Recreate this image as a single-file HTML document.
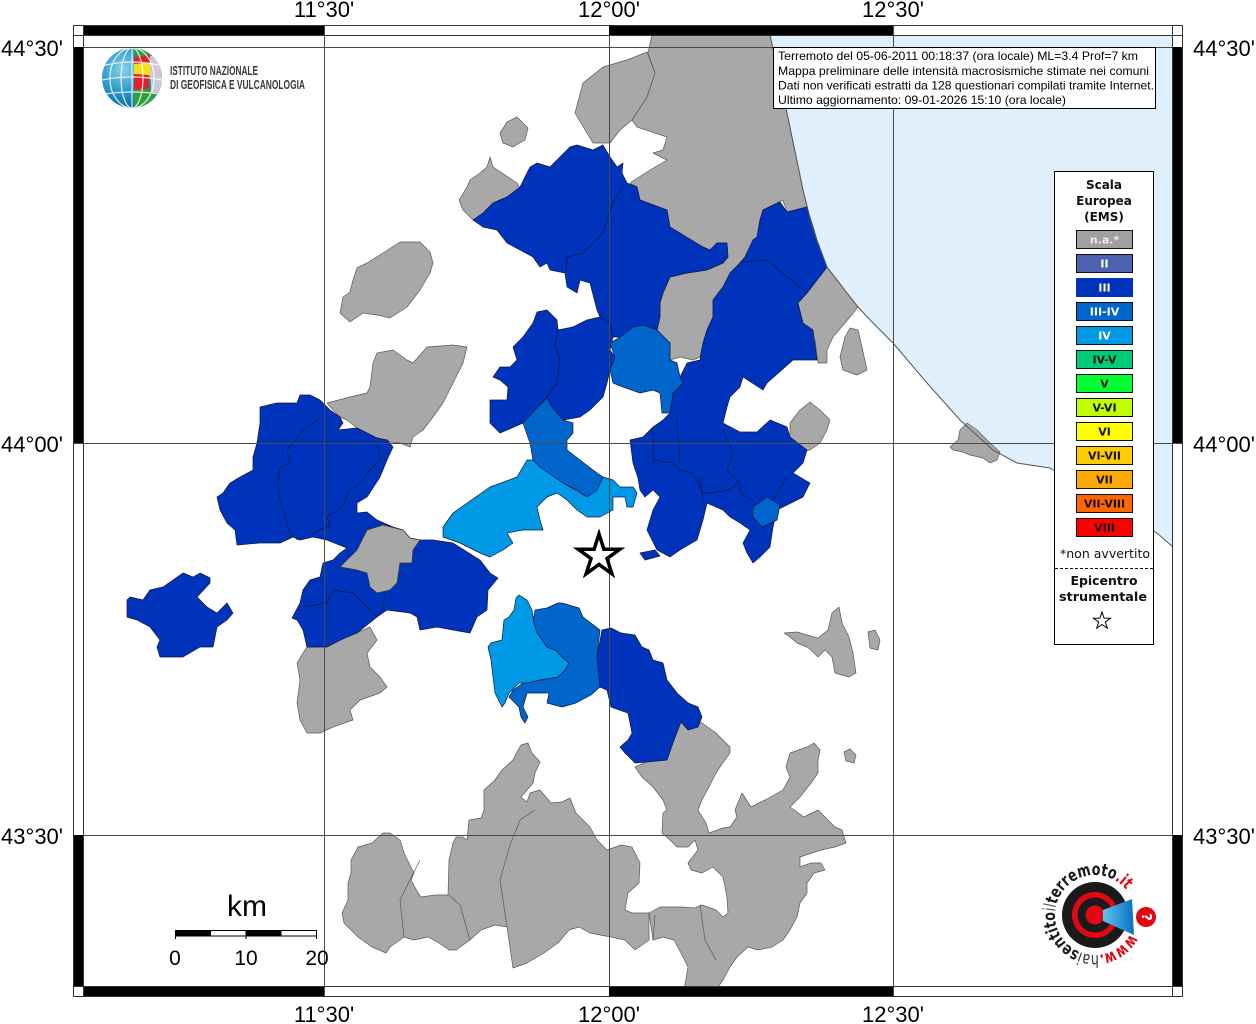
<!DOCTYPE html>
<html><head><meta charset="utf-8"><style>
html,body{margin:0;padding:0;background:#fff;}
svg{display:block;}
</style></head><body>
<svg width="1256" height="1024" viewBox="0 0 1256 1024" xmlns="http://www.w3.org/2000/svg">
<defs>
<clipPath id="mapclip"><rect x="83" y="35" width="1090" height="952"/></clipPath>
<radialGradient id="gb" cx="0.35" cy="0.35" r="0.75"><stop offset="0" stop-color="#86d3ec"/><stop offset="0.6" stop-color="#1d8fbf"/><stop offset="1" stop-color="#0b5d88"/></radialGradient>
<clipPath id="gc"><circle cx="132" cy="78" r="30"/></clipPath>
<linearGradient id="cone" x1="0" y1="0" x2="1" y2="0"><stop offset="0" stop-color="#5fc3f0"/><stop offset="1" stop-color="#0a6fc2"/></linearGradient>
<path id="arc" d="M1130.3,933.8 A40,40 0 1,1 1128.9,893.8"/>
</defs>
<rect width="1256" height="1024" fill="#fff"/>

<g clip-path="url(#mapclip)">
<!-- sea -->
<path d="M770,35 L1173,35 L1173,547 L1157,533 L1100,500 L1050,468 L1017,463 L993,450 L960,420 L927,383 L893,343 L873,323 L858,307 L847,293 L827,267 L813,230 L803,190 L787,113 Z" fill="#dff0fc"/>

<!-- gray regions -->
<g fill="#a8a8a8" stroke="#5a5a5a" stroke-width="0.7" stroke-linejoin="round">
<path d="M652,35 L770,35 L787,113 L803,190 L807,207 L787,212 L783,200 L763,210 L760,220 L757,237 L753,240 L745,257 L740,263 L730,273 L723,287 L713,300 L713,317 L707,330 L703,343 L700,357 L693,360 L680,357 L670,360 L670,343 L657,330 L660,317 L660,303 L663,293 L670,277 L687,273 L707,270 L723,263 L728,257 L727,243 L717,243 L710,250 L703,247 L670,227 L667,210 L640,200 L637,187 L630,183 L650,170 L667,160 L653,153 L663,150 L667,137 L637,127 L632,120 L647,97 L655,73 L648,53 Z"/>
<path d="M627,60 L647,52 L655,73 L647,97 L632,120 L620,130 L610,143 L593,143 L575,113 L583,83 L603,67 Z"/>
<path d="M490,157 L493,167 L517,183 L520,188 L507,197 L493,203 L483,213 L473,220 L463,210 L459,200 L467,187 L470,180 L480,173 L487,167 Z"/>
<path d="M517,117 L528,128 L525,140 L513,147 L503,143 L500,133 L507,122 Z"/>
<path d="M340,313 L343,297 L350,292 L353,280 L357,268 L367,263 L383,253 L400,242 L420,242 L430,252 L433,263 L430,273 L420,290 L407,307 L390,318 L377,315 L363,313 L350,322 Z"/>
<path d="M327,403 L350,397 L367,393 L370,387 L373,363 L377,353 L393,350 L407,360 L413,363 L427,347 L453,345 L467,347 L463,363 L453,383 L443,403 L433,417 L423,430 L413,437 L410,447 L400,443 L390,442 L387,440 L377,438 L367,433 L357,428 L347,420 L340,417 L333,410 Z"/>
<path d="M307,647 L327,647 L347,637 L370,627 L377,640 L367,653 L370,667 L380,677 L387,687 L380,693 L360,700 L350,710 L353,720 L333,727 L320,733 L307,733 L300,720 L297,703 L300,680 L297,663 L303,653 Z"/>
<path d="M827,267 L847,293 L858,307 L850,317 L833,337 L827,350 L827,363 L818,363 L815,340 L807,327 L800,320 L798,300 L807,293 Z"/>
<path d="M850,328 L858,330 L862,347 L867,370 L857,375 L843,370 L840,357 L845,337 Z"/>
<path d="M790,423 L800,410 L810,402 L820,410 L830,420 L827,430 L820,443 L810,450 L793,453 L790,437 Z"/>
<path d="M967,423 L977,430 L990,443 L1000,452 L997,460 L990,463 L983,458 L970,455 L963,452 L953,450 L950,447 L958,440 L960,430 Z"/>
<path d="M784,633 L797,632 L807,635 L818,638 L828,630 L832,613 L839,607 L842,623 L849,637 L853,653 L856,673 L849,677 L835,673 L832,657 L825,650 L818,657 L811,650 L807,647 L797,643 L790,637 Z"/>
<path d="M844,752 L850,749 L856,755 L854,763 L846,761 Z"/>
<path d="M868,632 L875,630 L880,640 L878,650 L870,648 Z"/>
<path d="M521,745 L528,743 L532,753 L540,762 L535,773 L533,783 L527,790 L521,797 L527,802 L530,793 L540,790 L551,803 L562,802 L570,798 L576,813 L583,820 L590,827 L597,840 L607,850 L621,845 L632,847 L640,863 L639,883 L628,893 L625,910 L632,913 L649,913 L649,940 L635,950 L625,940 L611,937 L600,935 L590,933 L579,927 L569,930 L558,943 L544,953 L527,963 L513,968 L507,927 L495,925 L481,930 L470,940 L456,950 L449,950 L439,943 L428,937 L414,940 L404,937 L390,947 L386,953 L372,947 L358,937 L344,923 L342,913 L348,900 L348,883 L351,873 L351,860 L358,847 L372,843 L383,833 L390,833 L400,840 L404,853 L411,867 L414,873 L411,880 L418,893 L421,897 L435,895 L448,895 L449,860 L453,843 L456,837 L463,837 L467,840 L469,820 L481,818 L484,810 L484,790 L495,780 L502,770 L513,760 L518,750 Z"/>
<path d="M681,720 L688,717 L702,723 L716,733 L723,740 L730,747 L730,753 L720,767 L716,773 L709,787 L702,800 L698,810 L706,823 L709,833 L723,828 L730,827 L737,817 L735,810 L742,793 L751,807 L765,800 L783,790 L790,777 L786,767 L790,753 L807,747 L814,743 L820,750 L818,760 L818,773 L811,783 L800,797 L790,807 L804,817 L818,810 L828,820 L835,827 L842,830 L846,843 L835,847 L821,850 L800,857 L800,867 L811,863 L821,863 L825,870 L814,873 L807,883 L807,893 L800,903 L797,917 L790,930 L783,940 L772,947 L758,950 L748,947 L737,957 L730,967 L723,980 L716,990 L684,990 L688,967 L681,953 L674,940 L663,937 L653,940 L649,913 L660,907 L681,907 L695,908 L702,905 L716,910 L723,917 L728,913 L727,897 L723,877 L713,867 L702,873 L691,870 L688,863 L698,850 L695,840 L688,847 L677,847 L670,840 L662,833 L663,813 L667,810 L663,800 L653,787 L642,777 L635,767 L646,762 L667,760 L674,740 Z"/>
</g>
<g fill="none" stroke="#5a5a5a" stroke-width="0.7">
<path d="M404,937 L400,900 L420,860"/>
<path d="M449,895 L460,905 L470,940"/>
<path d="M507,927 L500,880 L510,845 L520,820 L535,810"/>
<path d="M653,940 L655,915"/>
<path d="M700,905 L705,940 L716,960"/>
</g>

<!-- blue III regions -->
<g fill="#0033bb" stroke="#101840" stroke-width="0.7" stroke-linejoin="round">
<path d="M473,220 L483,213 L493,203 L507,197 L520,187 L530,167 L537,163 L550,167 L570,147 L577,145 L593,150 L603,145 L610,157 L617,167 L623,163 L622,173 L627,183 L637,187 L640,200 L667,210 L670,227 L703,247 L710,250 L717,243 L727,243 L728,257 L723,263 L707,270 L687,273 L670,277 L663,293 L660,303 L660,317 L657,330 L643,325 L633,327 L620,337 L613,337 L610,323 L600,317 L597,310 L590,283 L580,280 L577,293 L567,287 L565,273 L550,270 L547,263 L540,267 L533,257 L507,243 L497,230 L483,227 Z"/>
<path d="M537,312 L547,310 L557,320 L558,330 L555,343 L560,360 L557,383 L547,397 L535,410 L523,423 L507,430 L500,433 L490,423 L490,400 L507,400 L508,387 L500,380 L493,377 L500,367 L510,367 L517,360 L513,347 L523,337 L533,323 Z"/>
<path d="M587,320 L600,317 L610,323 L613,337 L610,350 L615,357 L610,370 L607,383 L603,397 L590,410 L580,417 L563,420 L547,407 L547,397 L557,383 L560,360 L555,343 L558,330 L573,327 Z"/>
<path d="M763,210 L780,202 L787,212 L807,207 L817,240 L827,267 L807,293 L798,303 L803,323 L813,330 L817,360 L793,360 L767,383 L763,390 L743,377 L740,387 L730,397 L727,407 L723,423 L740,432 L757,432 L770,420 L787,427 L790,437 L807,450 L803,463 L793,473 L810,483 L803,497 L777,510 L773,527 L770,547 L760,557 L753,563 L747,553 L743,543 L750,530 L740,523 L730,517 L723,510 L707,503 L703,520 L697,540 L680,550 L670,557 L657,550 L647,530 L653,510 L660,497 L653,490 L645,497 L640,490 L638,478 L633,463 L630,440 L643,437 L653,427 L663,420 L670,413 L673,393 L683,383 L680,377 L687,363 L700,360 L703,343 L707,330 L713,317 L713,300 L723,287 L730,273 L740,263 L745,257 L753,240 L757,237 L760,220 Z"/>
<path d="M640,553 L655,550 L660,556 L645,560 Z"/>
<path d="M260,407 L277,403 L297,403 L300,395 L310,395 L320,400 L330,410 L340,417 L343,423 L338,430 L357,428 L367,433 L377,438 L387,440 L393,447 L387,460 L380,477 L367,497 L357,503 L357,513 L367,512 L377,520 L393,527 L403,530 L410,538 L420,540 L433,540 L453,543 L480,560 L490,573 L498,578 L488,590 L487,610 L477,617 L470,633 L453,630 L437,627 L420,630 L417,617 L410,613 L387,610 L377,617 L357,633 L340,640 L327,647 L307,647 L303,630 L297,620 L292,618 L300,603 L303,590 L310,580 L320,577 L323,563 L333,560 L340,553 L347,548 L327,540 L313,537 L300,540 L293,537 L280,543 L260,543 L237,545 L235,530 L227,523 L220,510 L217,497 L223,493 L230,483 L240,477 L253,470 L253,457 L257,443 L260,423 Z"/>
<path d="M127,600 L130,597 L143,600 L150,590 L163,587 L173,580 L183,573 L193,577 L200,573 L210,578 L210,583 L197,597 L207,607 L217,613 L227,603 L233,613 L227,620 L217,627 L213,647 L200,647 L183,657 L160,657 L157,647 L160,640 L150,627 L137,620 L127,617 Z"/>
<path d="M602,630 L611,628 L621,633 L635,635 L642,647 L649,650 L653,660 L663,663 L667,680 L677,693 L688,703 L698,707 L702,717 L698,727 L688,730 L681,722 L674,740 L667,760 L646,762 L635,763 L625,753 L620,747 L628,740 L632,733 L628,713 L611,707 L607,690 L600,687 L597,657 Z"/>
</g>

<!-- gray inside west cluster -->
<path d="M367,530 L383,525 L403,530 L410,538 L420,540 L413,550 L412,563 L400,563 L397,583 L390,590 L377,593 L370,587 L367,573 L357,570 L340,567 L350,557 L357,550 Z" fill="#a8a8a8" stroke="#333" stroke-width="0.7"/>

<!-- III-IV -->
<g fill="#0066cc" stroke="#101840" stroke-width="0.7" stroke-linejoin="round">
<path d="M610,343 L620,337 L633,327 L643,325 L657,330 L670,343 L670,360 L677,363 L680,377 L683,383 L673,393 L670,413 L662,413 L660,393 L653,390 L640,393 L623,387 L613,383 L610,370 L615,357 Z"/>
<path d="M523,423 L535,410 L547,398 L552,407 L563,420 L573,423 L573,433 L567,440 L567,450 L580,460 L593,470 L603,477 L597,490 L587,497 L577,490 L563,483 L550,477 L540,467 L533,460 L530,443 Z"/>
<path d="M753,507 L767,497 L780,505 L777,520 L762,527 L753,517 Z"/>
<path d="M535,610 L547,608 L558,603 L562,603 L579,608 L583,617 L600,630 L597,657 L600,687 L591,695 L576,703 L562,707 L547,703 L549,693 L540,693 L527,693 L523,707 L528,717 L525,723 L521,717 L519,707 L509,697 L513,690 L523,683 L540,680 L558,677 L569,663 L562,657 L547,647 L537,633 L533,623 Z"/>
</g>

<!-- IV -->
<g fill="#0099e6" stroke="#101840" stroke-width="0.7" stroke-linejoin="round">
<path d="M443,527 L453,513 L490,487 L517,477 L527,460 L533,460 L540,467 L563,483 L587,497 L597,490 L603,477 L613,480 L620,487 L633,487 L637,493 L633,507 L627,507 L625,497 L613,497 L613,510 L600,517 L587,517 L577,510 L567,500 L557,493 L547,497 L537,507 L540,520 L543,530 L523,530 L507,533 L513,543 L503,550 L490,557 L480,553 L460,543 L443,537 Z"/>
<path d="M519,595 L527,600 L532,610 L534,623 L537,633 L547,647 L555,650 L562,657 L569,663 L565,670 L558,677 L540,680 L527,683 L519,683 L509,693 L505,703 L502,707 L495,693 L493,677 L491,660 L488,647 L491,643 L502,640 L504,620 L509,617 L514,610 L516,598 Z"/>
</g>

<!-- internal boundaries -->
<g fill="none" stroke="#101840" stroke-width="0.7">
<path d="M623,185 L612,205 L603,233 L583,253 L567,257 L566,272"/>
<path d="M740,262 L767,260 L807,293"/>
<path d="M653,427 L653,460 L673,463 L680,470 L693,473 L703,493 L710,493 L730,490 L737,483"/>
<path d="M677,420 L680,463"/>
<path d="M723,430 L733,453 L727,470 L740,483 L740,493 L753,500"/>
<path d="M700,477 L703,503"/>
<path d="M773,500 L787,477"/>
<path d="M320,418 L303,430 L293,443 L287,450 L290,463 L280,468 L278,483 L280,500 L283,510 L287,523 L290,533 L298,540"/>
<path d="M377,443 L380,460 L370,470 L360,483 L347,493 L343,507 L327,517 L330,525 L313,533"/>
<path d="M303,607 L327,603 L333,590 L353,593 L363,603 L377,617"/>
<path d="M383,610 L385,593"/>
</g>

<!-- coastline -->
<path d="M770,35 L787,113 L803,190 L813,230 L827,267 L847,293 L858,307 L873,323 L893,343 L927,383 L960,420 L993,450 L1017,463 L1050,468 L1100,500 L1157,533 L1173,547" fill="none" stroke="#555" stroke-width="1"/>

<!-- grid -->
<g stroke="#4a4a4a" stroke-width="1" fill="none">
<line x1="324.5" y1="25" x2="324.5" y2="997"/>
<line x1="609.5" y1="25" x2="609.5" y2="997"/>
<line x1="893.5" y1="25" x2="893.5" y2="997"/>
<line x1="73" y1="47.5" x2="1183" y2="47.5"/>
<line x1="73" y1="443.5" x2="1183" y2="443.5"/>
<line x1="73" y1="835.5" x2="1183" y2="835.5"/>
</g>
</g>

<!-- grid line extensions across frame -->
<g stroke="#4a4a4a" stroke-width="1">
<line x1="324.5" y1="25" x2="324.5" y2="35"/><line x1="609.5" y1="25" x2="609.5" y2="35"/><line x1="893.5" y1="25" x2="893.5" y2="35"/>
<line x1="324.5" y1="987" x2="324.5" y2="997"/><line x1="609.5" y1="987" x2="609.5" y2="997"/><line x1="893.5" y1="987" x2="893.5" y2="997"/>
<line x1="73" y1="47.5" x2="83" y2="47.5"/><line x1="73" y1="443.5" x2="83" y2="443.5"/><line x1="73" y1="835.5" x2="83" y2="835.5"/>
<line x1="1173" y1="47.5" x2="1183" y2="47.5"/><line x1="1173" y1="443.5" x2="1183" y2="443.5"/><line x1="1173" y1="835.5" x2="1183" y2="835.5"/>
</g>

<!-- frame bands -->
<g fill="#000">
<rect x="83" y="25" width="241" height="10"/>
<rect x="609" y="25" width="284" height="10"/>
<rect x="83" y="987" width="241" height="10"/>
<rect x="609" y="987" width="284" height="10"/>
<rect x="73" y="47" width="10" height="396"/>
<rect x="73" y="835" width="10" height="152"/>
<rect x="1173" y="47" width="10" height="396"/>
<rect x="1173" y="835" width="10" height="152"/>
</g>
<g stroke="#333" stroke-width="1" fill="none">
<rect x="73.5" y="25.5" width="1109" height="971"/>
<line x1="83.5" y1="25" x2="83.5" y2="997"/>
<line x1="1172.5" y1="25" x2="1172.5" y2="997"/>
<line x1="73" y1="35.5" x2="1183" y2="35.5"/>
<line x1="73" y1="986.5" x2="1183" y2="986.5"/>
</g>

<!-- tick labels -->
<g font-family="Liberation Sans, Arial, sans-serif" font-size="22" fill="#000">
<text x="324" y="17" text-anchor="middle">11°30'</text>
<text x="609" y="17" text-anchor="middle">12°00'</text>
<text x="893" y="17" text-anchor="middle">12°30'</text>
<text x="324" y="1022" text-anchor="middle">11°30'</text>
<text x="609" y="1022" text-anchor="middle">12°00'</text>
<text x="893" y="1022" text-anchor="middle">12°30'</text>
<text x="63" y="56" text-anchor="end">44°30'</text>
<text x="63" y="452" text-anchor="end">44°00'</text>
<text x="63" y="844" text-anchor="end">43°30'</text>
<text x="1193" y="56">44°30'</text>
<text x="1193" y="452">44°00'</text>
<text x="1193" y="844">43°30'</text>
</g>

<!-- INGV logo -->
<circle cx="132" cy="78" r="30" fill="url(#gb)"/>
<g clip-path="url(#gc)">
<polygon points="134,46 160,50 145,60 134,60" fill="#2e9e3e"/>
<polygon points="134,57 150,55 153,65 134,66" fill="#e2202b"/>
<polygon points="134,64 156,62 159,77 134,75" fill="#f2e21c"/>
<polygon points="134,74 149,75 149,90 134,92" fill="#e2202b"/>
<polygon points="134,90 163,87 163,112 134,112" fill="#2e9e3e"/>
<polygon points="150,56 165,54 165,92 151,93" fill="#cfc6d8"/>
<g fill="none" stroke="#fff" stroke-width="1.2" opacity="0.85">
<ellipse cx="132" cy="78" rx="11" ry="30"/>
<ellipse cx="132" cy="78" rx="22" ry="30"/>
<line x1="132" y1="48" x2="132" y2="108"/>
<path d="M102,66 Q132,58 162,66"/>
<path d="M102,80 Q132,74 162,80"/>
<path d="M104,94 Q132,90 160,94"/>
</g>
</g>
<g font-family="Liberation Sans Narrow, Liberation Sans, Arial, sans-serif" font-weight="bold" font-size="12.5" fill="#3a3a3a">
<text x="170" y="75" textLength="88" lengthAdjust="spacingAndGlyphs">ISTITUTO NAZIONALE</text>
<text x="170" y="89" textLength="135" lengthAdjust="spacingAndGlyphs">DI GEOFISICA E VULCANOLOGIA</text>
</g>

<!-- info box -->
<rect x="773.5" y="47.5" width="382" height="61" fill="#fff" stroke="#000" stroke-width="1"/>
<g font-family="Liberation Sans, Arial, sans-serif" font-size="12" fill="#000">
<text x="778" y="60" textLength="360" lengthAdjust="spacingAndGlyphs">Terremoto del 05-06-2011 00:18:37 (ora locale) ML=3.4 Prof=7 km</text>
<text x="778" y="75" textLength="371" lengthAdjust="spacingAndGlyphs">Mappa preliminare delle intensità macrosismiche stimate nei comuni</text>
<text x="778" y="89.5" textLength="376" lengthAdjust="spacingAndGlyphs">Dati non verificati estratti da 128 questionari compilati tramite Internet.</text>
<text x="778" y="104" textLength="288" lengthAdjust="spacingAndGlyphs">Ultimo aggiornamento: 09-01-2026 15:10 (ora locale)</text>
</g>

<!-- legend -->
<rect x="1054.5" y="171.5" width="99" height="473" fill="#fff" stroke="#000" stroke-width="1"/>
<g font-family="DejaVu Sans, Liberation Sans, sans-serif" font-weight="bold" font-size="12" fill="#111" text-anchor="middle">
<text x="1104" y="189">Scala</text>
<text x="1104" y="205">Europea</text>
<text x="1104" y="221">(EMS)</text>
</g>
<g stroke="#111" stroke-width="1">
<rect x="1076.5" y="230.5" width="56" height="18" fill="#a0a0a0"/>
<rect x="1076.5" y="254.5" width="56" height="18" fill="#4d62b0"/>
<rect x="1076.5" y="278.5" width="56" height="18" fill="#0033bb" stroke="#0033bb"/>
<rect x="1076.5" y="302.5" width="56" height="18" fill="#0066cc"/>
<rect x="1076.5" y="326.5" width="56" height="18" fill="#0099e6"/>
<rect x="1076.5" y="350.5" width="56" height="18" fill="#00cc77"/>
<rect x="1076.5" y="374.5" width="56" height="18" fill="#00ff33"/>
<rect x="1076.5" y="398.5" width="56" height="18" fill="#c0ff00"/>
<rect x="1076.5" y="422.5" width="56" height="18" fill="#ffff00"/>
<rect x="1076.5" y="446.5" width="56" height="18" fill="#ffcc00"/>
<rect x="1076.5" y="470.5" width="56" height="18" fill="#ffaa00"/>
<rect x="1076.5" y="494.5" width="56" height="18" fill="#ff6600"/>
<rect x="1076.5" y="518.5" width="56" height="18" fill="#ff0000"/>
</g>
<g font-family="DejaVu Sans, Liberation Sans, sans-serif" font-weight="bold" font-size="11" text-anchor="middle">
<text x="1104.5" y="243.5" fill="#ececec">n.a.*</text>
<text x="1104.5" y="267.5" fill="#fff">II</text>
<text x="1104.5" y="291.5" fill="#fff">III</text>
<text x="1104.5" y="315.5" fill="#fff">III-IV</text>
<text x="1104.5" y="339.5" fill="#fff">IV</text>
<text x="1104.5" y="363.5" fill="#111">IV-V</text>
<text x="1104.5" y="387.5" fill="#111">V</text>
<text x="1104.5" y="411.5" fill="#111">V-VI</text>
<text x="1104.5" y="435.5" fill="#111">VI</text>
<text x="1104.5" y="459.5" fill="#111">VI-VII</text>
<text x="1104.5" y="483.5" fill="#111">VII</text>
<text x="1104.5" y="507.5" fill="#111">VII-VIII</text>
<text x="1104.5" y="531.5" fill="#111">VIII</text>
</g>
<text x="1105" y="558" font-family="DejaVu Sans, Liberation Sans, sans-serif" font-size="12" fill="#111" text-anchor="middle" textLength="90" lengthAdjust="spacingAndGlyphs">*non avvertito</text>
<line x1="1055" y1="568.5" x2="1153" y2="568.5" stroke="#111" stroke-width="1" stroke-dasharray="3,2"/>
<g font-family="DejaVu Sans, Liberation Sans, sans-serif" font-weight="bold" font-size="12" fill="#111" text-anchor="middle">
<text x="1104" y="585" textLength="67" lengthAdjust="spacingAndGlyphs">Epicentro</text>
<text x="1103" y="601" textLength="88" lengthAdjust="spacingAndGlyphs">strumentale</text>
</g>
<polygon points="1102,612 1104.06,618.17 1110.56,618.22 1105.33,622.08 1107.29,628.28 1102,624.5 1096.71,628.28 1098.67,622.08 1093.44,618.22 1099.94,618.17" fill="#fff" stroke="#000" stroke-width="1"/>

<!-- epicenter star -->
<polygon points="599,534 603.9,549.2 619.9,549.2 607,558.6 611.9,573.8 599,564.4 586.1,573.8 591,558.6 578.1,549.2 594.1,549.2" fill="#fff" stroke="#000" stroke-width="3.5" stroke-linejoin="miter"/>

<!-- scale bar -->
<text x="247" y="916" font-family="Liberation Sans, Arial, sans-serif" font-size="30" text-anchor="middle" fill="#000">km</text>
<rect x="175.5" y="930.5" width="141" height="5.5" fill="#fff" stroke="#000" stroke-width="1"/>
<rect x="175.5" y="930.5" width="35.5" height="5.5" fill="#000"/>
<rect x="246" y="930.5" width="35.5" height="5.5" fill="#000"/>
<g stroke="#000" stroke-width="1">
<line x1="175.5" y1="930" x2="175.5" y2="939"/>
<line x1="246" y1="930" x2="246" y2="939"/>
<line x1="316.5" y1="930" x2="316.5" y2="939"/>
</g>
<g font-family="Liberation Sans, Arial, sans-serif" font-size="21" fill="#000" text-anchor="middle">
<text x="175" y="965">0</text>
<text x="246" y="965">10</text>
<text x="317" y="965">20</text>
</g>

<!-- haisentitoilterremoto logo -->
<circle cx="1095" cy="915" r="33" fill="#1a1a1a"/>
<circle cx="1095" cy="915" r="23" fill="#e30613"/>
<circle cx="1095" cy="915" r="17.5" fill="#1a1a1a"/>
<circle cx="1095" cy="915" r="9.5" fill="#e30613"/>
<polygon points="1103,910 1132,899 1134,935 1103,921" fill="url(#cone)"/>
<circle cx="1146" cy="917" r="10" fill="#e30613"/>
<text x="1146" y="921" font-family="DejaVu Sans, sans-serif" font-weight="bold" font-size="13" fill="#fff" text-anchor="middle" transform="rotate(90 1146 917)">?</text>
<text font-family="DejaVu Sans, Liberation Sans, sans-serif" font-size="17" font-weight="bold" fill="#1a1a1a">
<textPath href="#arc" textLength="204" lengthAdjust="spacingAndGlyphs"><tspan fill="#e30613">www.</tspan><tspan font-weight="normal" fill="#333">hai</tspan>sentito<tspan font-weight="normal" fill="#555">il</tspan>terremoto<tspan fill="#e30613">.it</tspan></textPath>
</text>
</svg>
</body></html>
